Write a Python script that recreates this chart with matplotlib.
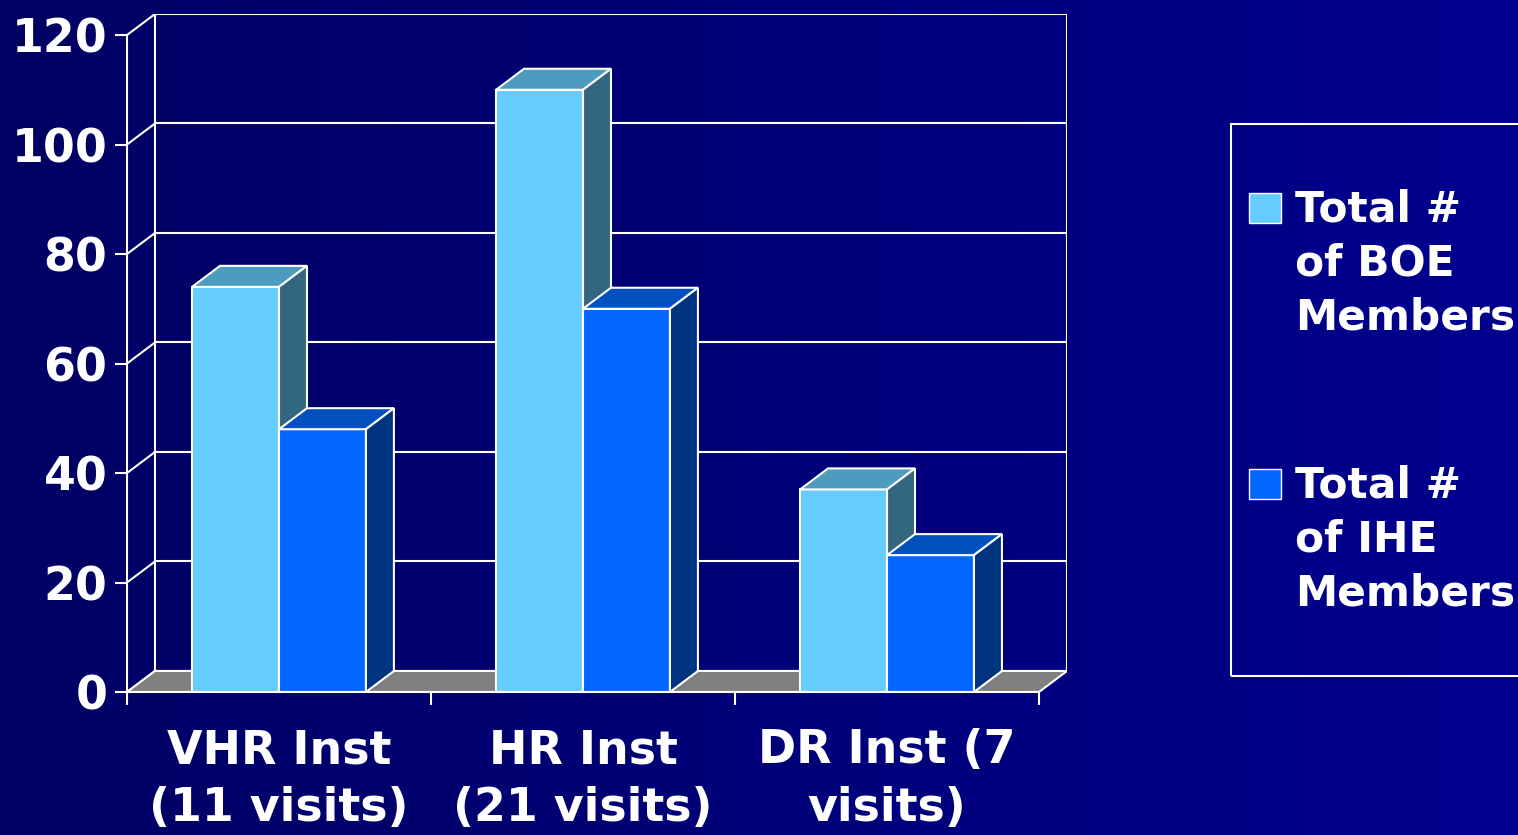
import matplotlib.pyplot as plt
import numpy as np
from matplotlib.patches import Polygon, Rectangle
from matplotlib.colors import LinearSegmentedColormap

categories = ["VHR Inst\n(11 visits)", "HR Inst\n(21 visits)", "DR Inst (7\nvisits)"]
series_names = ["Total #\nof BOE\nMembers", "Total #\nof IHE\nMembers"]
boe = [74, 110, 37]
ihe = [48, 70, 25]
yticks = [0, 20, 40, 60, 80, 100, 120]

front_cols = ["#66ccff", "#0066ff"]
top_cols = ["#4d9bbf", "#0050c0"]
side_cols = ["#336680", "#003380"]

W, H = 1518, 835
fig = plt.figure(figsize=(W / 100, H / 100), dpi=100)
plt.rcParams['font.family'] = ['DejaVu Sans']

# background gradient
bg = fig.add_axes([0, 0, 1, 1])
cmap = LinearSegmentedColormap.from_list("bg", ["#000063", "#00008e"])
bg.imshow(np.linspace(0, 1, 256).reshape(1, -1), aspect='auto', cmap=cmap, extent=[0, 1, 0, 1])
bg.set_axis_off()

# depth of the fake 3d box in data units
n = len(categories)
dx, dy = 0.092, 3.84
ymax = yticks[-1]
ax = fig.add_axes([127 / W, (H - 692) / H, (1067 - 127) / W, (692 - 14) / H])
ax.set_xlim(0, n + dx)
ax.set_ylim(0, ymax + dy)
ax.patch.set_visible(False)
lw = 1.5
wc = "white"

for s in ['top', 'right']:
    ax.spines[s].set_visible(False)
ax.spines['left'].set_bounds(0, ymax)
ax.spines['bottom'].set_bounds(0, n)
for s in ['left', 'bottom']:
    ax.spines[s].set_color(wc)
    ax.spines[s].set_linewidth(lw)
    ax.spines[s].set_zorder(6)

ax.set_yticks(yticks)
ax.set_yticklabels([str(t) for t in yticks], fontsize=33, fontweight='bold', color=wc)
ax.set_xticks(range(n + 1))
ax.set_xticklabels([""] * (n + 1))
ax.set_xticks(np.arange(n) + 0.5, minor=True)
ax.set_xticklabels(categories, minor=True, fontsize=33, fontweight='bold', color=wc, linespacing=1.38)
ax.tick_params(axis='both', which='major', color=wc, width=lw, length=9, direction='out')
ax.tick_params(axis='y', pad=5)
ax.tick_params(axis='x', which='minor', length=0, pad=26)

# back wall and side wall
for t in yticks:
    ax.plot([dx, n + dx], [t + dy, t + dy], color=wc, lw=lw, zorder=1)
    ax.plot([0, dx], [t, t + dy], color=wc, lw=lw, zorder=1)
ax.plot([dx, dx], [dy, ymax + dy], color=wc, lw=lw, zorder=1)
ax.plot([n + dx, n + dx], [dy, ymax + dy], color=wc, lw=lw, zorder=1)

# floor
ax.add_patch(Polygon([(0, 0), (n, 0), (n + dx, dy), (dx, dy)], closed=True,
                     facecolor="#808080", edgecolor=wc, lw=lw, zorder=1.5))

bw = 0.286
x = np.arange(n) + 0.5
for k, vals in enumerate([boe, ihe]):
    z = 3 + k
    left = x - bw + k * bw
    ax.bar(left, vals, width=bw, align='edge', color=front_cols[k], edgecolor=wc, lw=lw, zorder=z)
    for l, v in zip(left, vals):
        r = l + bw
        ax.add_patch(Polygon([(l, v), (r, v), (r + dx, v + dy), (l + dx, v + dy)],
                             facecolor=top_cols[k], edgecolor=wc, lw=lw, zorder=z))
        ax.add_patch(Polygon([(r, 0), (r + dx, dy), (r + dx, v + dy), (r, v)],
                             facecolor=side_cols[k], edgecolor=wc, lw=lw, zorder=z))

# legend
def px(xp, yp):
    return xp / W, 1 - yp / H

x0, y0 = px(1231, 676)
x1, y1 = px(1530, 124)
fig.patches.append(Rectangle((x0, y0), x1 - x0, y1 - y0, transform=fig.transFigure,
                             facecolor='none', edgecolor=wc, lw=lw))
for k, (name, ytop) in enumerate(zip(series_names, [193, 469])):
    a, b = px(1249, ytop + 30)
    c, d = px(1281, ytop)
    fig.patches.append(Rectangle((a, b), c - a, d - b, transform=fig.transFigure,
                                 facecolor=front_cols[k], edgecolor=wc, lw=1.0))
    tx, ty = px(1295, ytop - 5)
    fig.text(tx, ty, name, fontsize=30.5, fontweight='bold', color=wc, va='top', ha='left',
             linespacing=1.37)

fig.savefig("out.png", dpi=100)
